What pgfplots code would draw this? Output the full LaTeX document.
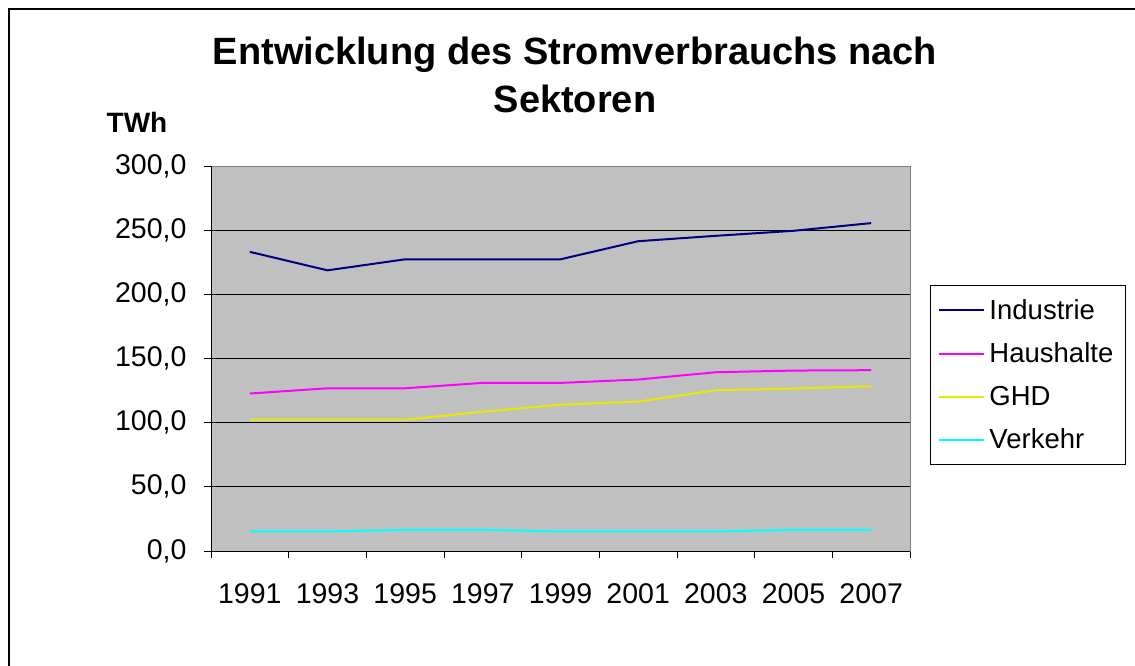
\documentclass[border=0pt]{standalone}
\usepackage{fontspec}
\setmainfont{Liberation Sans}
\usepackage{pgfplots}
\pgfplotsset{compat=1.18}
\definecolor{navyc}{RGB}{0,0,128}
\definecolor{magc}{RGB}{255,0,255}
\definecolor{yelc}{RGB}{232,232,0}
\definecolor{cyac}{RGB}{0,255,255}
\definecolor{bgc}{RGB}{192,192,192}
\definecolor{graya}{RGB}{128,128,128}
\begin{document}
\begin{tikzpicture}[x=1pt,y=1pt]
\useasboundingbox (0,0) rectangle (1135,-666);
\draw[line width=1.3pt] (9,-670) -- (9,-9) -- (1140,-9);
\begin{axis}[
  at={(211pt,-551pt)}, anchor=south west,
  scale only axis, width=699pt, height=385pt,
  xmin=-0.5, xmax=8.5, ymin=0, ymax=300,
  axis background/.style={fill=bgc},
  axis line style={draw=graya, line width=1pt},
  xtick pos=bottom, ytick pos=left,
  xtick={0,...,8},
  xticklabels={1991,1993,1995,1997,1999,2001,2003,2005,2007},
  major x tick style={draw=none},
  minor xtick={-0.5,0.5,...,8.5},
  minor x tick style={black, line width=1pt},
  tick align=outside,
  minor tick length=7pt,
  major tick length=7pt,
  ytick={0,50,...,300},
  yticklabels={{0,0},{50,0},{100,0},{150,0},{200,0},{250,0},{300,0}},
  major y tick style={black, line width=1pt},
  ymajorgrids, major grid style={black, line width=1pt},
  tick label style={font=\fontsize{28.5}{32}\selectfont},
  xticklabel style={yshift=-22pt},
  yticklabel style={xshift=-14pt},
  title={Entwicklung des Stromverbrauchs nach\\Sektoren},
  title style={align=center, font=\fontsize{38}{48}\selectfont\bfseries,
    at={(rel axis cs:0.5207,1.2208)}, anchor=center},
  legend style={at={(rel axis cs:1.0286,0.691)}, anchor=north west,
    draw=black, line width=1pt, font=\fontsize{27.5}{30}\selectfont,
    inner xsep=8pt, inner ysep=13pt, row sep=20pt,
    nodes={inner xsep=4pt, inner ysep=1pt}},
  legend cell align=left,
  legend image code/.code={\draw[#1] (0pt,0pt) -- (45pt,0pt);},
  clip=false,
]
\addplot[navyc, line width=2pt] coordinates {(0,233.1) (1,218.7) (2,227.3) (3,227.3) (4,227.3) (5,241.4) (6,245.6) (7,249.5) (8,255.5)};
\addlegendentry{Industrie}
\addplot[magc, line width=2pt] coordinates {(0,122.7) (1,126.8) (2,126.8) (3,131.0) (4,131.0) (5,133.6) (6,139.3) (7,140.6) (8,140.9)};
\addlegendentry{Haushalte}
\addplot[yelc, line width=2pt] coordinates {(0,102.3) (1,102.3) (2,102.3) (3,108.6) (4,114.0) (5,116.4) (6,125.3) (7,126.6) (8,128.4)};
\addlegendentry{GHD}
\addplot[cyac, line width=2pt] coordinates {(0,15.2) (1,15.2) (2,16.5) (3,16.5) (4,15.2) (5,15.2) (6,15.2) (7,16.5) (8,16.5)};
\addlegendentry{Verkehr}
\draw[black, line width=1pt] (rel axis cs:0,1) -- (rel axis cs:0,0) -- (rel axis cs:1,0);
\node[font=\fontsize{28}{30}\selectfont\bfseries] at (rel axis cs:-0.1059,1.1143) {TWh};
\end{axis}
\end{tikzpicture}
\end{document}
